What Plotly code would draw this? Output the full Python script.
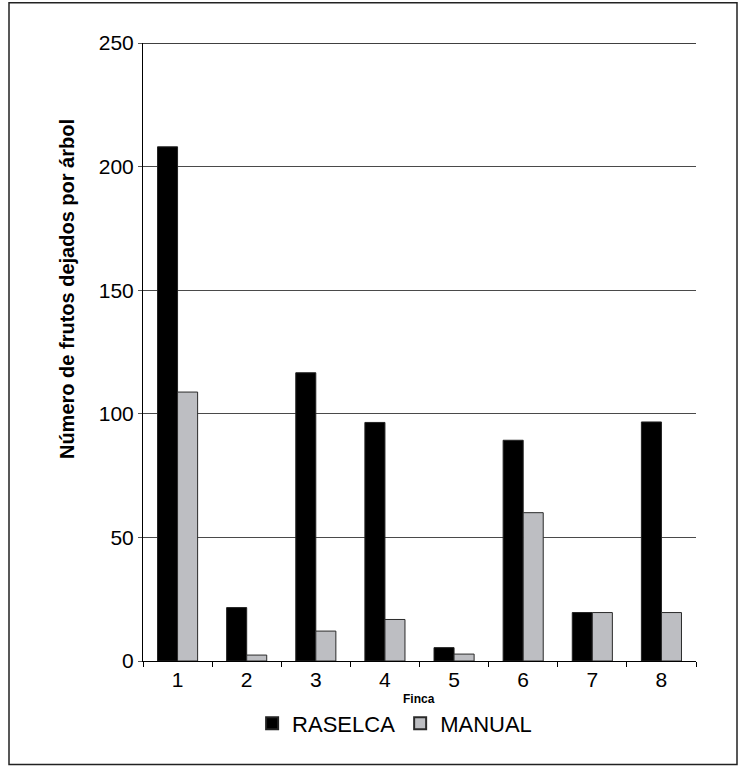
import plotly.graph_objects as go

fincas = ["1", "2", "3", "4", "5", "6", "7", "8"]
raselca = [208, 21.6, 116.6, 96.5, 5.4, 89.3, 19.6, 96.7]
manual = [108.8, 2.4, 12.1, 16.8, 2.8, 60.0, 19.6, 19.6]
y_ticks = [0, 50, 100, 150, 200, 250]

FONT = "Liberation Sans, Arial, sans-serif"

fig = go.Figure()
fig.add_trace(go.Bar(x=fincas, y=raselca, name="RASELCA",
                     marker=dict(color="#000000", line=dict(color="#222222", width=1))))
fig.add_trace(go.Bar(x=fincas, y=manual, name="MANUAL",
                     marker=dict(color="#bdbec2", line=dict(color="#2a2a2a", width=1))))

fig.update_layout(
    width=741, height=767,
    margin=dict(l=143, r=45, t=43, b=106, autoexpand=False),
    paper_bgcolor="white", plot_bgcolor="white",
    barmode="group", bargap=0.42, bargroupgap=0,
    font=dict(family=FONT, color="#000000"),
    showlegend=True,
    legend=dict(orientation="h", x=0.455, xanchor="center", y=-0.101, yanchor="middle",
                font=dict(size=22, family=FONT), itemsizing="constant",
                traceorder="normal", bgcolor="rgba(0,0,0,0)"),
)

fig.update_xaxes(
    type="category", showline=True, linecolor="#000000", linewidth=1,
    ticks="outside", ticklen=5, tickcolor="#000000", tickson="boundaries",
    tickfont=dict(size=21, family=FONT), showgrid=False, zeroline=False,
)
fig.update_yaxes(
    range=[0, 250], tickvals=y_ticks, ticktext=[str(v) for v in y_ticks],
    showline=True, linecolor="#000000", linewidth=1,
    ticks="outside", ticklen=4, tickcolor="#555555",
    tickfont=dict(size=21, family=FONT),
    showgrid=True, gridcolor="#4a4a4a", gridwidth=1, zeroline=False,
)

# top gridline darker
fig.add_shape(type="line", xref="paper", yref="y", x0=0, x1=1, y0=250, y1=250,
              line=dict(color="#000000", width=1.5))

# outer frame
fig.add_shape(type="rect", xref="paper", yref="paper",
              x0=(9 - 143) / 553, x1=(737 - 143) / 553,
              y0=(660.6 - 764) / 617.4, y1=(660.6 - 3) / 617.4,
              line=dict(color="#222222", width=1.5), layer="below")

fig.add_annotation(text="<b>Número de frutos dejados por árbol</b>", textangle=-90,
                   xref="paper", yref="paper", x=(67 - 143) / 553, y=(660.6 - 289) / 617.4,
                   xanchor="center", yanchor="middle", showarrow=False,
                   font=dict(size=20, family=FONT, color="#000000"))
fig.add_annotation(text="<b>Finca</b>", xref="paper", yref="paper",
                   x=(419 - 143) / 553, y=(660.6 - 699) / 617.4,
                   xanchor="center", yanchor="middle", showarrow=False,
                   font=dict(size=12, family=FONT, color="#000000"))

fig.write_html("out.html", config={"displayModeBar": False},
               post_script="document.body.style.margin='0';document.body.style.overflow='hidden';")
